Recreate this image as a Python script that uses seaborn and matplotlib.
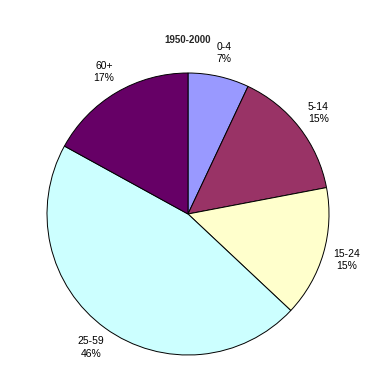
import matplotlib
matplotlib.use("Agg")
import matplotlib.pyplot as plt
import seaborn as sns

categories = ["0-4", "5-14", "15-24", "25-59", "60+"]
values = [7, 15, 15, 46, 17]
colors = ["#9999FF", "#993366", "#FFFFCC", "#CCFFFF", "#660066"]
title = "1950-2000"

sns.set_theme(style="white")
plt.rcParams['font.family'] = ['Liberation Sans', 'DejaVu Sans']

fig = plt.figure(figsize=(3.9, 3.9), dpi=100)
fig.patch.set_facecolor("white")
cx, cy, r = 188, 214, 141
ax = fig.add_axes([(cx - r) / 390, (390 - cy - r) / 390, 2 * r / 390, 2 * r / 390])

labels = [f"{c}\n{v}%" for c, v in zip(categories, values)]
wedges, texts = ax.pie(values, labels=labels, colors=colors, startangle=90,
                       counterclock=False, labeldistance=1.17,
                       wedgeprops=dict(edgecolor="black", linewidth=0.7),
                       textprops=dict(fontsize=7.5, color="black"))
for t in texts:
    t.set_horizontalalignment("center")
    t.set_verticalalignment("center")
    t.set_linespacing(1.3)
ax.set_xlim(-1, 1)
ax.set_ylim(-1, 1)
ax.set_aspect("equal")
ax.axis("off")

fig.text(cx / 390, 1 - 40 / 390, title, ha="center", va="center",
         fontsize=7, fontweight="bold", family=['Liberation Sans', 'DejaVu Sans'])

fig.savefig("out.png", dpi=100, facecolor="white")
